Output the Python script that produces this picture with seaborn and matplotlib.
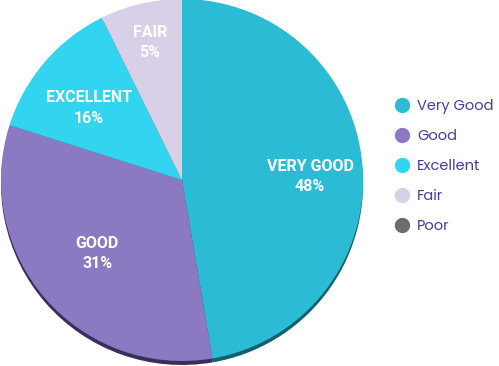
import numpy as np
import matplotlib
matplotlib.use("Agg")
import matplotlib.pyplot as plt
import seaborn as sns
from matplotlib.lines import Line2D

# dilim buyuklukleri, etiketlerdeki yuzdeler ayri
categories = ["Very Good", "Good", "Excellent", "Fair", "Poor"]
sizes = [47.3, 32.6, 12.8, 7.3, 0.0]
pct_labels = ["48%", "31%", "16%", "5%", ""]
slice_titles = ["VERY GOOD", "GOOD", "EXCELLENT", "FAIR", ""]
label_r = [0.71, 0.62, 0.68, 0.78, 0.7]
label_dy = [-0.04, 0.0, -0.045, 0.0, 0.0]

renkler = ["#2BBBD5", "#8B79C2", "#33D4F0", "#D8D0E8", "#6E6B70"]
koyu = ["#145F6E", "#3A2D5E", "#177086", "#6E6680", "#333333"]

sns.set_theme(style="white")
plt.rcParams["font.family"] = ["Poppins", "Lato", "DejaVu Sans"]

fig = plt.figure(figsize=(4.99, 3.66), dpi=100)
ax = fig.add_axes([1 / 499, 5 / 366, 362 / 499, 362 / 366])

vals = [s for s in sizes if s > 0]
# alt kenardaki koyu serit icin arkaya kaydirilmis bir pasta
ax.pie(vals, colors=koyu[:len(vals)], startangle=90, counterclock=False,
       center=(0, -0.022), radius=1.0, wedgeprops=dict(linewidth=0))
wedges, _ = ax.pie(vals, colors=renkler[:len(vals)], startangle=90,
                   counterclock=False, radius=1.0, wedgeprops=dict(linewidth=0))

for w, t, p, r, dy in zip(wedges, slice_titles, pct_labels, label_r, label_dy):
    ang = np.deg2rad((w.theta1 + w.theta2) / 2)
    x, y = r * np.cos(ang), r * np.sin(ang) + dy
    ax.text(x, y, t + "\n" + p, ha="center", va="center", color="white",
            fontsize=11.5, fontweight="bold", linespacing=1.45,
            family=["Liberation Sans Narrow", "Roboto", "DejaVu Sans"])

ax.set_xlim(-1.0, 1.0)
ax.set_ylim(-1.0, 1.0)
ax.set_aspect("equal")
ax.axis("off")

handles = [Line2D([0], [0], marker="o", ls="", markersize=10,
                  markerfacecolor=c, markeredgecolor=c) for c in renkler]
leg = fig.legend(handles, categories, loc="upper left",
                 bbox_to_anchor=(380 / 499, 1 - 86 / 366), frameon=False,
                 fontsize=10.5, labelspacing=1.02, handletextpad=0.45,
                 handlelength=1.2)
for t in leg.get_texts():
    t.set_color("#4B3A9E")

fig.savefig("out.png", dpi=100)
